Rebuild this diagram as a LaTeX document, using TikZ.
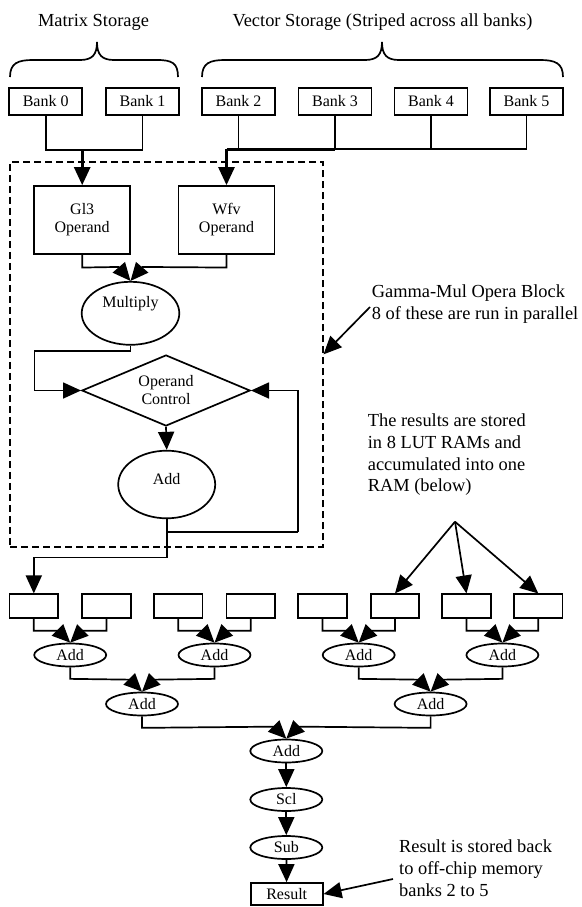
\documentclass[tikz,border=0pt]{standalone}
\usepackage{fontspec}
\setmainfont{Liberation Serif}
\usetikzlibrary{arrows.meta,calc,shapes.geometric}
\newcommand{\nodefont}{\fontsize{16pt}{18pt}\selectfont}
\newcommand{\notefont}{\fontsize{18.4pt}{21.7pt}\selectfont}

\begin{document}
\begin{tikzpicture}[x=1pt,y=-1pt,line width=1.7pt,font=\nodefont,
  bankbox/.style={draw,minimum width=73pt,minimum height=27pt,inner sep=0pt},
  opbox/.style={draw,minimum width=96pt,minimum height=68pt,align=center,inner sep=0pt},
  ramrect/.style={draw,minimum width=48.5pt,minimum height=24pt,inner sep=0pt},
  opell/.style={draw,ellipse,inner sep=0pt},
  addell/.style={opell,minimum width=72pt,minimum height=23pt},
  arr/.style={-{Triangle[length=18pt,width=16pt]}},
  trunk/.style={line width=2.6pt},
  note/.style={font=\notefont,align=left,anchor=west,inner sep=0pt}]
\useasboundingbox (0,0) rectangle (581,907);
% storage headings and braces
\node[font=\notefont] (mtxt) at (93.5,22) {Matrix Storage};
\node[font=\notefont] (vtxt) at (382.5,22) {Vector Storage (Striped across all banks)};
\draw (10,77) .. controls (10,63) and (18,60) .. (33,60) -- (80,60)
  .. controls (92,60) and (97,55) .. (97,42) .. controls (97,55) and (102,60) .. (114,60)
  -- (157,60) .. controls (172,60) and (178,63) .. (178,77);
\draw (202,77) .. controls (202,63) and (210,60) .. (225,60) -- (365,60)
  .. controls (377,60) and (382,55) .. (382,42) .. controls (382,55) and (387,60) .. (399,60)
  -- (540,60) .. controls (555,60) and (563,63) .. (563,77);
% banks
\foreach \i/\x in {0/45.7,1/142.5,2/238.5,3/335,4/431,5/526.5}
  \node[bankbox] (b\i) at (\x,101.5) {Bank \i};
% operator block
\node[draw,dash pattern=on 7pt off 4pt,minimum width=312.7pt,minimum height=384.7pt,inner sep=0pt] (blk) at (166.35,354.35) {};
\node[opbox] (gl) at (82.2,220) {Gl3\\Operand};
\node[opbox] (wf) at (226.5,220) {Wfv\\Operand};
\node[opell,minimum width=97.6pt,minimum height=63pt,label={[yshift=10pt]center:Multiply}] (mul) at (130.5,313.3) {};
\node[draw,diamond,aspect=2.37,inner sep=0pt,minimum width=168.3pt,minimum height=71pt,align=center] (opc) at (166,390.5) {Operand\\Control};
\node[opell,minimum width=97pt,minimum height=67.6pt,label={[yshift=5.5pt]center:Add}] (addm) at (166.7,484.5) {};
% LUT RAMs and adder tree
\foreach \i/\x in {1/33.8,2/106.5,3/178.2,4/250.8,5/322.5,6/395,7/466.5,8/538.3}
  \node[ramrect] (r\i) at (\x,606.3) {};
\foreach \i/\x in {1/70.2,2/214.5,3/358.7,4/502.4}
  \node[addell] (a\i) at (\x,655) {Add};
\node[addell] (a5) at (142,704) {Add};
\node[addell] (a6) at (430.6,704) {Add};
\node[addell] (a7) at (286.3,751) {Add};
\node[addell] (scl) at (286.3,799.5) {Scl};
\node[addell] (sub) at (286.3,847.5) {Sub};
\node[draw,minimum width=72pt,minimum height=22pt,inner sep=0pt] (res) at (286.7,894) {Result};
% notes
\node[note] (gnote) at (371,304) {Gamma-Mul Opera Block\\8 of these are run in parallel};
\node[note] (lnote) at (367,455) {The results are stored\\in 8 LUT RAMs and\\accumulated into one\\RAM (below)};
\node[note] (rnote) at (398.3,868) {Result is stored back\\to off-chip memory\\banks 2 to 5};
% bank wiring
\coordinate (jm) at (82.2,150);
\coordinate (jv) at (226.5,149.3);
\draw (b0.south) |- (jm) -| (b1.south);
\draw[arr,trunk] (jm) -- (gl.north);
\foreach \i in {2,...,5}
  \draw (b\i.south) |- (jv);
\draw[trunk] (jv) -- (jv -| b3.south);
\draw[arr,trunk] (jv) -- (wf.north);
% inside the block
\draw[arr] (gl.south) -- ++(0,12.7) -- ($(mul.north)+(-12,-14)$) -- (mul.north);
\draw[arr] (wf.south) -- ++(0,12.7) -- ($(mul.north)+(12,-14)$) -- (mul.north);
\draw[arr] (mul.south) |- ++(-96,5) |- (opc.west);
\draw[arr] (opc.south) -- (addm.north);
\coordinate (fb) at (298.3,531.7);
\draw (addm.south) |- (fb);
\draw[arr] (fb) |- (opc.east);
\draw[arr] (addm.south) -- ++(0,38.4) -| (r1.north);
% adder tree
\foreach \s/\d/\dx in {r1/a1/-12,r2/a1/12,r3/a2/-12,r4/a2/12,r5/a3/-12,r6/a3/12,r7/a4/-12,r8/a4/12,
    a1/a5/-12,a2/a5/12,a3/a6/-12,a4/a6/12,a5/a7/-12,a6/a7/12}
  \draw[arr] (\s.south) -- ++(0,11.5) -- ($(\d.north)+(\dx,-12)$) -- (\d.north);
\draw[arr] (a7) -- (scl);
\draw[arr] (scl) -- (sub);
\draw[arr] (sub) -- (res);
% note arrows
\coordinate (gtail) at (370,307);
\draw[arr] (gtail) -- (blk.east);
\coordinate (lsrc) at (455,521.7);
\foreach \i in {6,7,8}
  \draw[arr] (lsrc) -- (r\i.north);
\coordinate (rtail) at (393,879);
\draw[arr] (rtail) -- (res.east);
\end{tikzpicture}
\end{document}
